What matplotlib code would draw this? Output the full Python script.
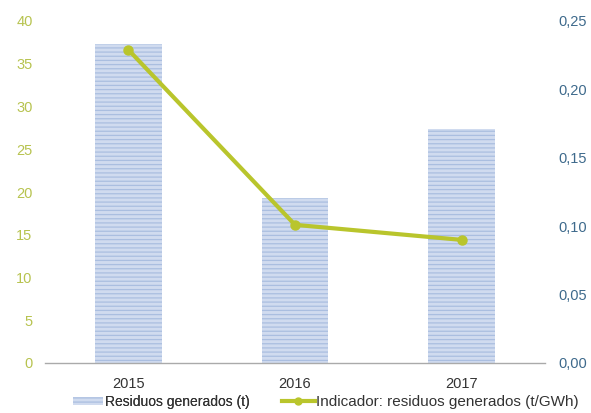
import matplotlib
matplotlib.use("Agg")
import matplotlib.pyplot as plt
from matplotlib.patches import Patch
from matplotlib.lines import Line2D

years = ["2015", "2016", "2017"]
residuos = [37.3, 19.3, 27.4]
indicador = [0.229, 0.101, 0.090]
left_ticks = [0, 5, 10, 15, 20, 25, 30, 35, 40]
right_ticks = [0.00, 0.05, 0.10, 0.15, 0.20, 0.25]

plt.rcParams['hatch.linewidth'] = 0.9
plt.rcParams['font.family'] = ['Liberation Sans', 'DejaVu Sans']

fig = plt.figure(figsize=(5.91, 4.13), dpi=100)
ax = fig.add_axes([45/591, 1-363/413, 500/591, (363-21)/413])
ax2 = ax.twinx()

x = list(range(len(years)))
ax.bar(x, residuos, width=0.4, color='#d0dbef', hatch='----', edgecolor='#aabee0', linewidth=0, zorder=2)
ax2.plot(x, indicador, color='#b9c52c', linewidth=3, marker='o', markersize=6.5, zorder=3)

ax.set_xlim(-0.5, 2.5)
ax.set_ylim(0, 40)
ax2.set_ylim(0, 0.25)
ax.set_xticks(x)
ax.set_xticklabels(years, fontsize=10.5, color='#333333')
ax.set_yticks(left_ticks)
ax.set_yticklabels([str(t) for t in left_ticks], fontsize=10.5, color='#b7c34f')
ax2.set_yticks(right_ticks)
ax2.set_yticklabels([f"{t:.2f}".replace('.', ',') for t in right_ticks], fontsize=10.5, color='#3e6a8c')

for a in (ax, ax2):
    for s in ['top', 'right', 'left', 'bottom']:
        a.spines[s].set_visible(False)
    a.tick_params(length=0)
ax.spines['bottom'].set_visible(True)
ax.spines['bottom'].set_color('#aaaaaa')
ax.spines['bottom'].set_linewidth(1)
ax.tick_params(axis='y', pad=9.0)
ax.tick_params(axis='x', pad=10)
ax2.tick_params(axis='y', pad=9.7)

h1 = Patch(facecolor='#d0dbef', edgecolor='#aabee0', hatch='----', linewidth=0, label='Residuos generados (t)')
h2 = Line2D([0], [0], color='#b9c52c', linewidth=3, marker='o', markersize=5, label='Indicador: residuos generados (t/GWh)')
ly = 1 - 402/413
leg1 = fig.legend(handles=[h1], loc='center left', bbox_to_anchor=(73/591, ly), frameon=False,
                  fontsize=10, labelcolor='#333333', handlelength=2.15, handleheight=0.5,
                  handletextpad=0.15, borderpad=0, borderaxespad=0)
leg2 = fig.legend(handles=[h2], loc='center left', bbox_to_anchor=(282/591, ly), frameon=False,
                  fontsize=11, labelcolor='#333333', handlelength=2.15,
                  handletextpad=0.1, borderpad=0, borderaxespad=0)
fig.add_artist(leg1)

fig.savefig('out.png', dpi=100)
